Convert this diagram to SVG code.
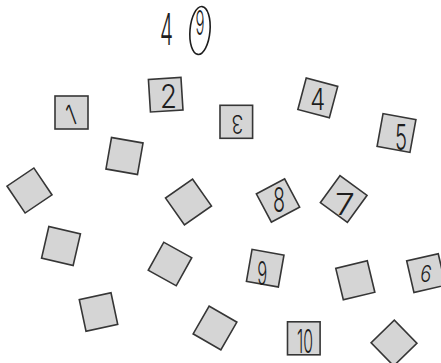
<svg xmlns="http://www.w3.org/2000/svg" width="441" height="363" viewBox="0 0 441 363">
<style>
.sq{fill:#d5d5d5;stroke:#363636;stroke-width:1.6}
.lb{font-family:Inter,"Open Sans","Liberation Sans",sans-serif;font-weight:300;fill:#1e1e1e;text-anchor:middle}
</style>
<rect width="441" height="363" fill="#ffffff"/>
<g id="title">
<text class="lb" x="166.5" y="45" font-size="44" textLength="13" lengthAdjust="spacingAndGlyphs">4</text>
<ellipse cx="200" cy="30.5" rx="10" ry="24" transform="rotate(5 200 30.5)" fill="none" stroke="#1e1e1e" stroke-width="1.6"/>
<text class="lb" x="200" y="35" font-size="34" textLength="9" lengthAdjust="spacingAndGlyphs">9</text>
</g>
<g id="connectors"/>
<g id="n1" transform="translate(71.5,112.5)"><rect class="sq" x="-16.5" y="-16.5" width="33" height="33"/><text class="lb" transform="translate(-0.5,2.5) rotate(-20)" y="10" font-size="28" textLength="8" lengthAdjust="spacingAndGlyphs">1</text></g>
<g id="n2" transform="translate(165.7,94.7)"><rect class="sq" x="-16.3" y="-16.3" width="32.6" height="32.6" transform="rotate(-3.6)"/><text class="lb" x="2.8" y="13.3" font-size="32" textLength="17" lengthAdjust="spacingAndGlyphs">2</text></g>
<g id="n3" transform="translate(236.3,121.8)"><rect class="sq" x="-16.3" y="-16.5" width="32.6" height="33"/><text class="lb" transform="translate(1.2,2.2) rotate(180)" y="9" font-size="25" textLength="12" lengthAdjust="spacingAndGlyphs">3</text></g>
<g id="n4" transform="translate(317.8,97.9)"><rect class="sq" x="-16.3" y="-16.3" width="32.6" height="32.6" transform="rotate(14.9)"/><text class="lb" x="0" y="12" font-size="30" textLength="15" lengthAdjust="spacingAndGlyphs">4</text></g>
<g id="n5" transform="translate(396.5,133)"><rect class="sq" x="-16.7" y="-16.7" width="33.4" height="33.4" transform="rotate(10.3)"/><text class="lb" x="4.5" y="16.7" font-size="36" textLength="12" lengthAdjust="spacingAndGlyphs">5</text></g>
<g id="nA" transform="translate(124.5,156)"><rect class="sq" x="-16" y="-16" width="32" height="32" transform="rotate(10)"/></g>
<g id="nB" transform="translate(29.5,190.5)"><rect class="sq" x="-16.2" y="-16.2" width="32.4" height="32.4" transform="rotate(56)"/></g>
<g id="nC" transform="translate(188.5,202)"><rect class="sq" x="-16.5" y="-16.5" width="33" height="33" transform="rotate(55)"/></g>
<g id="n8" transform="translate(278,200.5)"><rect class="sq" x="-16" y="-16" width="32" height="32" transform="rotate(62)"/><text class="lb" x="1" y="11" font-size="34" textLength="12" lengthAdjust="spacingAndGlyphs">8</text></g>
<g id="n7" transform="translate(343.7,199)"><rect class="sq" x="-16.7" y="-16.7" width="33.4" height="33.4" transform="rotate(36)"/><text class="lb" x="1.3" y="16" font-size="30" textLength="20" lengthAdjust="spacingAndGlyphs">7</text></g>
<g id="nD" transform="translate(61,246)"><rect class="sq" x="-16.2" y="-16.2" width="32.4" height="32.4" transform="rotate(13)"/></g>
<g id="nE" transform="translate(170,264)"><rect class="sq" x="-16" y="-16" width="32" height="32" transform="rotate(29)"/></g>
<g id="n9" transform="translate(265.2,268.2)"><rect class="sq" x="-16.2" y="-16.2" width="32.4" height="32.4" transform="rotate(10)"/><text class="lb" x="-2.9" y="16.6" font-size="33" textLength="10" lengthAdjust="spacingAndGlyphs">9</text></g>
<g id="nF" transform="translate(355.3,280.3)"><rect class="sq" x="-16.2" y="-16.2" width="32.4" height="32.4" transform="rotate(-13.5)"/></g>
<g id="n6" transform="translate(426.1,273.1)"><rect class="sq" x="-16.2" y="-16.2" width="32.4" height="32.4" transform="rotate(-13)"/><text class="lb" transform="rotate(10)" x="0" y="8.7" font-size="23" textLength="11" lengthAdjust="spacingAndGlyphs">6</text></g>
<g id="nG" transform="translate(98.5,312)"><rect class="sq" x="-16.2" y="-16.2" width="32.4" height="32.4" transform="rotate(-12)"/></g>
<g id="nH" transform="translate(215,328)"><rect class="sq" x="-16" y="-16" width="32" height="32" transform="rotate(30)"/></g>
<g id="n10" transform="translate(303.8,338.3)"><rect class="sq" x="-16.3" y="-16.5" width="32.6" height="33"/><text class="lb" x="1.2" y="14.2" font-size="33" textLength="16" lengthAdjust="spacingAndGlyphs">10</text></g>
<g id="nI" transform="translate(394,343)"><rect class="sq" x="-16.2" y="-16.2" width="32.4" height="32.4" transform="rotate(45.8)"/></g>
</svg>
